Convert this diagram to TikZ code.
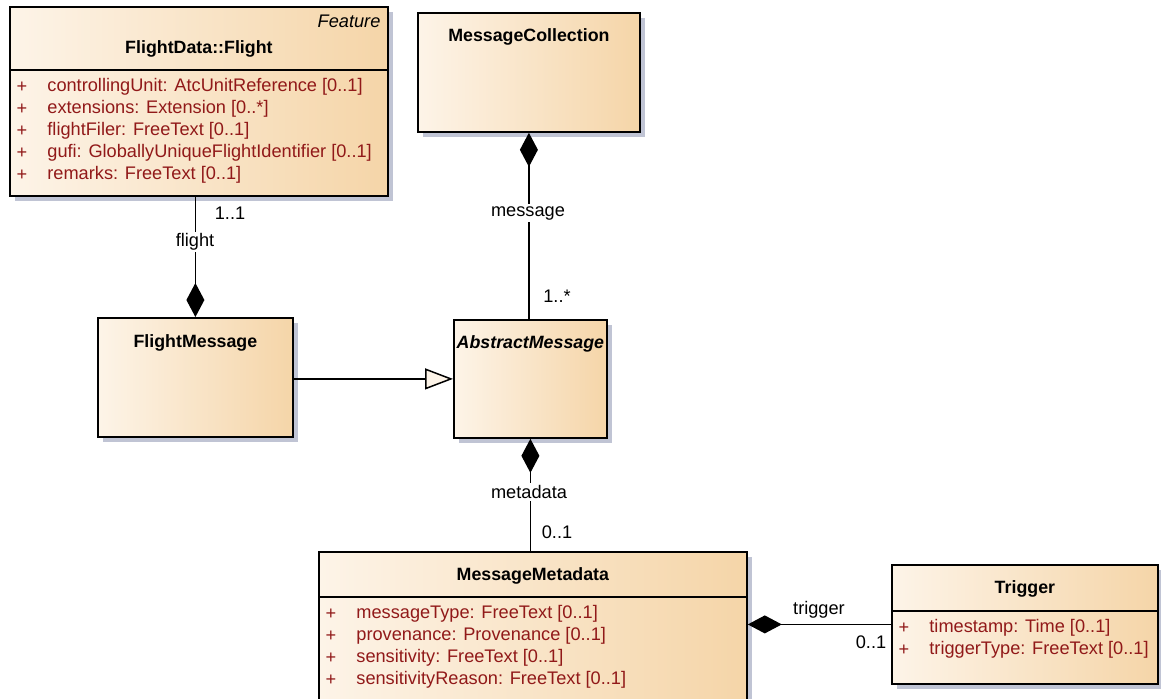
\documentclass[tikz,border=0pt]{standalone}
\usepackage{fontspec}
\setmainfont{Liberation Sans}
\usetikzlibrary{arrows.meta}
\usetikzlibrary{shadows}
\usetikzlibrary{positioning}

\definecolor{boxleft}{RGB}{253,244,232}
\definecolor{boxright}{RGB}{245,213,168}
\definecolor{boxshadow}{RGB}{192,196,212}
\definecolor{attrred}{RGB}{145,25,25}

\tikzset{
  classbox/.style={draw, line width=0.9pt, inner sep=0pt, anchor=north west,
    left color=boxleft, right color=boxright,
    drop shadow={shadow xshift=2.5pt, shadow yshift=-2.5pt, fill=boxshadow, opacity=1}},
  classname/.style={font=\fontsize{8.9}{10.5}\selectfont\bfseries},
  attr/.style={font=\fontsize{9.1}{10.5}\selectfont, text=attrred, inner sep=0pt},
  role/.style={font=\fontsize{9.1}{10.5}\selectfont, fill=white, inner sep=1pt},
  mult/.style={font=\fontsize{9.1}{10.5}\selectfont, inner sep=1pt},
  sepline/.style={line width=0.7pt},
  assoc/.style={line width=0.75pt},
  comp/.style={assoc, {Diamond[length=17pt,width=9pt]}-},
  generalize/.style={assoc, -{Triangle[length=14pt,width=10.5pt,fill=boxleft]}},
}

\newcommand\umlclass[7]{
  \node[classbox, minimum width=#4*0.5pt, minimum height=#5*0.5pt] (#1) at (#2,#3) {};
  \node[classname] (#1-name) at ([shift={(0,#6)}]#1.north) {#7};
}
\newcommand\attributes[3]{
  \draw[sepline] ([shift={(0,#2)}]#1.north west) -- ([shift={(0,#2)}]#1.north east);
  \foreach \attr [count=\i] in {#3} {
    \node[attr] at ([shift={(13,#2+17+22*\i-22)}]#1.north west) {+};
    \node[attr, anchor=west] at ([shift={(38,#2+17+22*\i-22)}]#1.north west) {\attr};
  }
}

\begin{document}
\begin{tikzpicture}[x=0.5pt, y=-0.5pt]
  \useasboundingbox (0,0) rectangle (1161,698);
  \clip (0,0) rectangle (1161,698);

  % classes
  \umlclass{flight}{9}{6}{378}{189}{43}{FlightData::Flight}
  \node[attr, text=black, font=\fontsize{9.1}{10.5}\selectfont\itshape, anchor=east]
    (flight-stereo) at ([shift={(-8,15)}]flight.north east) {Feature};
  \attributes{flight}{64}{{controllingUnit: AtcUnitReference [0..1]},
    {extensions: Extension [0..*]}, {flightFiler: FreeText [0..1]},
    {gufi: GloballyUniqueFlightIdentifier [0..1]}, {remarks: FreeText [0..1]}}

  \umlclass{collection}{417}{12}{222}{119}{25}{MessageCollection}
  \umlclass{flightmsg}{97}{317}{195}{119}{26}{FlightMessage}
  \umlclass{abstractmsg}{453}{319}{153}{118}{25}{\itshape AbstractMessage}

  \umlclass{metadata}{318}{551}{428}{170}{25}{MessageMetadata}
  \attributes{metadata}{46}{{messageType: FreeText [0..1]},
    {provenance: Provenance [0..1]}, {sensitivity: FreeText [0..1]},
    {sensitivityReason: FreeText [0..1]}}

  \umlclass{trigger}{891}{564}{266}{119}{25}{Trigger}
  \attributes{trigger}{47}{{timestamp: Time [0..1]}, {triggerType: FreeText [0..1]}}

  % associations
  \draw[comp] (flightmsg.north) -- (flightmsg.north |- flight.south);
  \draw[comp] (collection.south) -- (collection.south |- abstractmsg.north);
  \draw[comp] (abstractmsg.south) -- (abstractmsg.south |- metadata.north);
  \draw[comp] (metadata.east |- trigger.west) -- (trigger.west);
  \draw[generalize] (abstractmsg.west -| flightmsg.east) -- (abstractmsg.west);

  % role names and multiplicities
  \node[role] (flight-role) at (195,242) {flight};
  \node[mult] (flight-mult) at (230,213) {1..1};
  \node[role] (message-role) at (528,213) {message};
  \node[mult] (message-mult) at (557,296) {1..*};
  \node[role] (metadata-role) at (529,492) {metadata};
  \node[mult] (metadata-mult) at (557,532) {0..1};
  \node[mult] (trigger-role) at (819,610) {trigger};
  \node[mult] (trigger-mult) at (871,642) {0..1};

\end{tikzpicture}
\end{document}
